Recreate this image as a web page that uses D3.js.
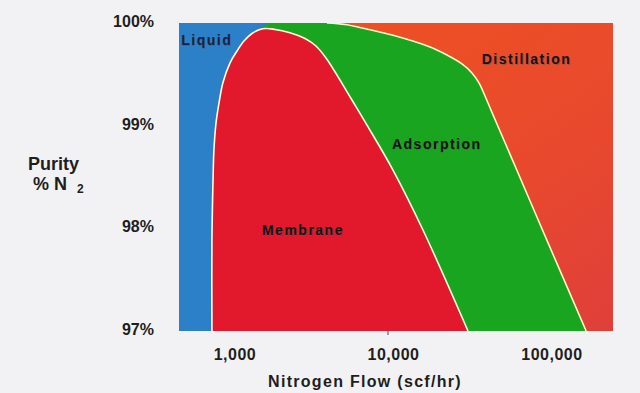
<!DOCTYPE html>
<html>
<head>
<meta charset="utf-8">
<script src="https://cdn.jsdelivr.net/npm/d3@7"></script>
<style>
  html, body { margin: 0; padding: 0; background: #f2f2f4; }
  svg { display: block; }
  text { font-family: "Liberation Sans", Arial, sans-serif; font-weight: bold; }
</style>
</head>
<body>
<script>
// ---- data ----
const flowTicks = [1000, 10000, 100000];
const flowTickLabels = ["1,000", "10,000", "100,000"];
const purityTicks = [97, 98, 99, 100];
const purityTickLabels = ["97%", "98%", "99%", "100%"];
const regionNames = ["Liquid", "Membrane", "Adsorption", "Distillation"];
// boundary of the membrane region (flow scf/hr, purity %N2)
const membraneBoundary = [
  [753, 97.0], [753, 97.89], [765, 98.47], [775, 98.76], [798, 99.02], [834, 99.22],
  [884, 99.42], [978, 99.61], [1083, 99.727], [1199, 99.825], [1347, 99.898], [1513, 99.937],
  [1651, 99.946], [1827, 99.94], [2339, 99.905], [2909, 99.849], [3414, 99.776],
  [3947, 99.659], [4630, 99.493], [5757, 99.25], [7159, 99.006], [10445, 98.568],
  [16150, 97.984], [31060, 97.0]
];
// boundary between adsorption and distillation
const adsorptionBoundary = [
  [4000, 100.0], [5200, 99.985], [6470, 99.956], [10450, 99.88], [17900, 99.766],
  [22890, 99.688], [28470, 99.601], [32910, 99.513], [36430, 99.416], [39770, 99.289],
  [43380, 99.152], [49430, 98.948], [63100, 98.568], [91650, 97.984], [172900, 97.0]
];
// right edge of the liquid region (upper part, rest hidden by membrane)
const liquidEdge = [[1750, 100.0], [1366, 99.912], [1000, 97.0]];

// ---- layout ----
const W = 640, H = 393;
const plot = { left: 179, right: 613, top: 23, bottom: 331 };

const svg = d3.select("body").append("svg").attr("width", W).attr("height", H);

const x = d3.scaleLog().domain([466.6, 255300]).range([plot.left, plot.right]);
const y = d3.scaleLinear().domain([97, 100]).range([plot.bottom, plot.top]);
const [xmin, xmax] = x.domain();

const defs = svg.append("defs");
defs.append("clipPath").attr("id", "clip").append("rect")
  .attr("x", plot.left).attr("y", plot.top)
  .attr("width", plot.right - plot.left).attr("height", plot.bottom - plot.top);
const grad = defs.append("linearGradient").attr("id", "distGrad")
  .attr("x1", "0%").attr("y1", "0%").attr("x2", "100%").attr("y2", "100%");
grad.append("stop").attr("offset", "0%").attr("stop-color", "#f0531f");
grad.append("stop").attr("offset", "60%").attr("stop-color", "#e94a2c");
grad.append("stop").attr("offset", "100%").attr("stop-color", "#df3f3a");

const g = svg.append("g").attr("clip-path", "url(#clip)");

// distillation (background)
g.append("rect")
  .attr("x", x(xmin)).attr("y", y(100))
  .attr("width", x(xmax) - x(xmin)).attr("height", y(97) - y(100))
  .attr("fill", "url(#distGrad)");

const curve = d3.curveCatmullRom.alpha(0.5);
const line = d3.line().x(d => x(d[0])).y(d => y(d[1])).curve(curve);
const straight = d3.line().x(d => x(d[0])).y(d => y(d[1]));

// adsorption (green)
g.append("path")
  .attr("d", straight([[xmin, 97], [xmin, 100]]) + line(adsorptionBoundary).replace(/^M/, "L") + "Z")
  .attr("fill", "#19a51f");

// liquid (blue)
g.append("path")
  .attr("d", straight([[xmin, 97], [xmin, 100]].concat(liquidEdge)) + "Z")
  .attr("fill", "#2c80c8");

// membrane (red)
g.append("path")
  .attr("d", line(membraneBoundary) + "Z")
  .attr("fill", "#e2182c");

// outlines
g.append("path").attr("d", line(membraneBoundary))
  .attr("fill", "none").attr("stroke", "#fffbe3").attr("stroke-width", 1.6);
g.append("path").attr("d", line(adsorptionBoundary))
  .attr("fill", "none").attr("stroke", "#fff6c8").attr("stroke-width", 1.6);

// region labels (anchored in data coordinates)
const labelAnchors = [
  [482, 99.786], [1557, 97.935], [10290, 98.773], [37900, 99.60]
];
const labelG = svg.append("g");
regionNames.forEach((name, i) => {
  const px = x(labelAnchors[i][0]);
  const py = y(labelAnchors[i][1]);
  labelG.append("text").attr("x", px + 0.8).attr("y", py + 0.8)
    .attr("font-size", 14).attr("letter-spacing", 1.5)
    .attr("fill", "rgba(90,90,90,0.55)").text(name);
  labelG.append("text").attr("x", px).attr("y", py)
    .attr("font-size", 14).attr("letter-spacing", 1.5)
    .attr("fill", i === 0 ? "#13234a" : "#121212").text(name);
});

// x axis (labels)
const xAxis = d3.axisBottom(x).tickValues(flowTicks)
  .tickFormat((d, i) => flowTickLabels[i]).tickSize(0).tickPadding(0);
const xa = svg.append("g").attr("transform", `translate(0,${plot.bottom})`).call(xAxis);
xa.select(".domain").remove();
xa.selectAll("text").attr("font-size", 16).attr("fill", "#1e1e1e")
  .attr("font-family", "Liberation Sans, Arial, sans-serif").attr("font-weight", "bold")
  .attr("letter-spacing", 0.5).attr("dx", 3).attr("dy", 0).attr("y", 29);
// small tick mark at 10,000
svg.append("line")
  .attr("x1", x(10000) - 2).attr("x2", x(10000) - 2)
  .attr("y1", plot.bottom).attr("y2", plot.bottom + 4)
  .attr("stroke", "#444").attr("stroke-width", 1);

// y axis (labels)
const yAxis = d3.axisLeft(y).tickValues(purityTicks)
  .tickFormat((d, i) => purityTickLabels[i]).tickSize(0).tickPadding(0);
const ya = svg.append("g").attr("transform", `translate(154,0)`).call(yAxis);
ya.select(".domain").remove();
ya.selectAll("text").attr("font-size", 16).attr("fill", "#1e1e1e")
  .attr("font-family", "Liberation Sans, Arial, sans-serif").attr("font-weight", "bold")
  .attr("x", 0).attr("dy", 3.5).attr("text-anchor", "end");

// axis titles
svg.append("text").attr("x", 365).attr("y", 387).attr("text-anchor", "middle")
  .attr("font-size", 16).attr("letter-spacing", 1.3).attr("fill", "#1e1e1e")
  .text("Nitrogen Flow  (scf/hr)");
svg.append("text").attr("x", 53.5).attr("y", 170).attr("text-anchor", "middle")
  .attr("font-size", 18).attr("fill", "#1e1e1e").text("Purity");
svg.append("text").attr("x", 33).attr("y", 190)
  .attr("font-size", 18).attr("fill", "#1e1e1e").text("% N");
svg.append("text").attr("x", 77).attr("y", 193)
  .attr("font-size", 12).attr("fill", "#1e1e1e").text("2");
</script>
</body>
</html>
